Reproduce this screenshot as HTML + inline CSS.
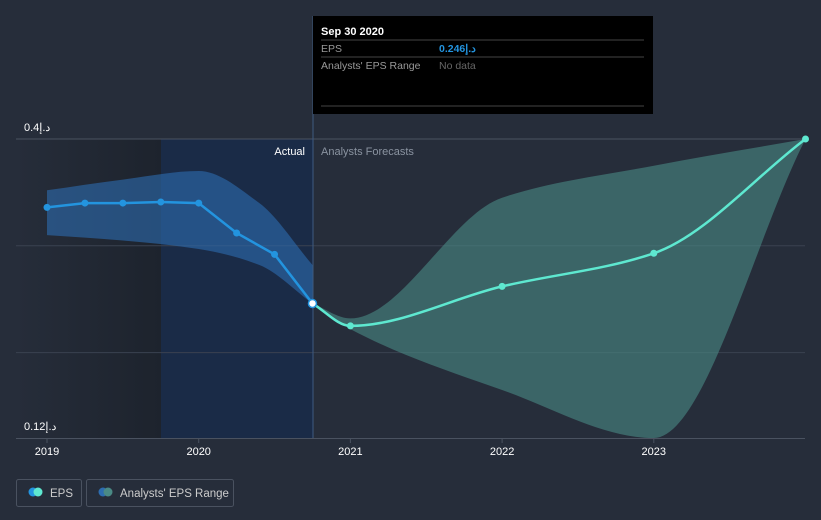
<!DOCTYPE html>
<html><head><meta charset="utf-8"><style>
body{margin:0;background:#262d3a;font-family:"Liberation Sans","Noto Sans CJK SC",sans-serif;}
svg{display:block}
</style></head><body>
<svg width="821" height="520">
<defs>
<linearGradient id="lg" x1="0" x2="1" y1="0" y2="0"><stop offset="0" stop-color="#262d3a"/><stop offset="1" stop-color="#1d232d"/></linearGradient>
</defs>
<rect x="0" y="0" width="821" height="520" fill="#262d3a"/>
<rect x="16" y="139" width="145" height="299" fill="url(#lg)"/>
<rect x="161" y="139" width="152" height="299" fill="#1a2b47"/>
<g id="grid"></g>
<path id="actBand" fill="#2d6db0" fill-opacity="0.6"/>
<path id="fcBand" fill="#4a8a85" fill-opacity="0.6"/>
<line x1="313" y1="16" x2="313" y2="438" stroke="#3d5a80" stroke-width="1"/>
<path id="actLine" fill="none" stroke="#2394df" stroke-width="2.5"/>
<path id="fcLine" fill="none" stroke="#5ee8d0" stroke-width="2.5"/>
<g id="pts"></g>
<text x="305" y="155" fill="#fff" font-size="11" text-anchor="end">Actual</text>
<text x="321" y="155" fill="#8a93a0" font-size="11">Analysts Forecasts</text>
<g id="ylab"></g>
<g id="xlab"></g>
<g>
<rect x="313" y="16" width="340" height="98" fill="#000"/>
<text x="321" y="35" fill="#fff" font-size="11" font-weight="bold">Sep 30 2020</text>
<line x1="321" y1="40" x2="644" y2="40" stroke="#444"/>
<text x="321" y="52" fill="#999" font-size="10.5">EPS</text>
<text x="439" y="52" fill="#2394df" font-size="10.5" font-weight="bold">0.246د.إ</text>
<line x1="321" y1="57" x2="644" y2="57" stroke="#444"/>
<text x="321" y="69" fill="#999" font-size="10.5">Analysts' EPS Range</text>
<text x="439" y="69" fill="#666" font-size="10.5">No data</text>
<line x1="321" y1="106" x2="644" y2="106" stroke="#444"/>
</g>
<g>
<rect x="16.5" y="479.5" width="65" height="27" rx="2" fill="none" stroke="#4a5260"/>
<circle cx="33" cy="492" r="4.5" fill="#2394df"/><circle cx="38" cy="492" r="4.5" fill="#5ee8d0"/>
<text x="50" y="497" fill="#ccc" font-size="11.5">EPS</text>
</g>
<g>
<rect x="86.5" y="479.5" width="147" height="27" rx="2" fill="none" stroke="#4a5260"/>
<circle cx="103" cy="492" r="4.5" fill="#2d6db0"/><circle cx="108" cy="492" r="4.5" fill="#4a8a85"/>
<text x="120" y="497" fill="#ccc" font-size="11.5">Analysts' EPS Range</text>
</g>
</svg>
<script>
const actualDates=[2019,2019.25,2019.5,2019.75,2020,2020.25,2020.5,2020.75];
const actualEps=[0.336,0.340,0.340,0.341,0.340,0.312,0.292,0.246];
const bandDates=[2019,2019.5,2020,2020.4,2020.75];
const actualHigh=[0.352,0.362,0.370,0.340,0.282];
const actualLow=[0.310,0.305,0.297,0.282,0.246];
const fcDates=[2020.75,2021,2022,2023,2024];
const fcEps=[0.246,0.225,0.262,0.293,0.4];
const fcHigh=[0.246,0.232,0.345,0.375,0.4];
const fcLow=[0.246,0.222,0.165,0.120,0.4];
const yTicks=[0.4,0.3,0.2,0.12];
const yLabels=["0.4د.إ","","","0.12د.إ"];
const xTicks=[2019,2020,2021,2022,2023];
const X=d=>47+(d-2019)*151.7;
const Y=v=>139+(0.4-v)*1068;
const ns="http://www.w3.org/2000/svg";
function line(xs,ys){return xs.map((d,i)=>(i?"L":"M")+X(d).toFixed(1)+","+Y(ys[i]).toFixed(1)).join("");}
function smooth(xs,ys){
  const n=xs.length,px=xs.map(X),py=ys.map(Y);
  const dx=[],s=[];for(let i=0;i<n-1;i++){dx[i]=px[i+1]-px[i];s[i]=(py[i+1]-py[i])/dx[i];}
  const m=[];m[0]=s[0];m[n-1]=s[n-2];
  for(let i=1;i<n-1;i++){if(s[i-1]*s[i]<=0)m[i]=0;else{const w1=2*dx[i]+dx[i-1],w2=dx[i]+2*dx[i-1];m[i]=(w1+w2)/(w1/s[i-1]+w2/s[i]);}}
  let p="M"+px[0].toFixed(1)+","+py[0].toFixed(1);
  for(let i=0;i<n-1;i++){const h=dx[i]/3;
    p+=`C${(px[i]+h).toFixed(1)},${(py[i]+m[i]*h).toFixed(1)} ${(px[i+1]-h).toFixed(1)},${(py[i+1]-m[i+1]*h).toFixed(1)} ${px[i+1].toFixed(1)},${py[i+1].toFixed(1)}`;}
  return p;}
function smoothRev(xs,ys){
  // build forward then reverse points by re-tracing backwards with same curve
  const n=xs.length,px=xs.map(X),py=ys.map(Y);
  const dx=[],s=[];for(let i=0;i<n-1;i++){dx[i]=px[i+1]-px[i];s[i]=(py[i+1]-py[i])/dx[i];}
  const m=[];m[0]=s[0];m[n-1]=s[n-2];
  for(let i=1;i<n-1;i++){if(s[i-1]*s[i]<=0)m[i]=0;else{const w1=2*dx[i]+dx[i-1],w2=dx[i]+2*dx[i-1];m[i]=(w1+w2)/(w1/s[i-1]+w2/s[i]);}}
  let p="L"+px[n-1].toFixed(1)+","+py[n-1].toFixed(1);
  for(let i=n-1;i>0;i--){const h=dx[i-1]/3;
    p+=`C${(px[i]-h).toFixed(1)},${(py[i]-m[i]*h).toFixed(1)} ${(px[i-1]+h).toFixed(1)},${(py[i-1]+m[i-1]*h).toFixed(1)} ${px[i-1].toFixed(1)},${py[i-1].toFixed(1)}`;}
  return p;}
function band(xs,hi,lo){return smooth(xs,hi)+smoothRev(xs,lo)+"Z";}
document.getElementById('actBand').setAttribute('d',band(bandDates,actualHigh,actualLow));
document.getElementById('fcBand').setAttribute('d',band(fcDates,fcHigh,fcLow));
document.getElementById('actLine').setAttribute('d',line(actualDates,actualEps));
document.getElementById('fcLine').setAttribute('d',smooth(fcDates,fcEps));
const g=document.getElementById('grid');
yTicks.forEach((t,i)=>{if(t===0.12)return;const l=document.createElementNS(ns,'line');


l.setAttribute('x1',16);l.setAttribute('x2',805);l.setAttribute('y1',Y(t));l.setAttribute('y2',Y(t));l.setAttribute('stroke',i==0?'#4a5260':'#3a4250');g.appendChild(l);});
const base=document.createElementNS(ns,'line');


base.setAttribute('x1',16);base.setAttribute('x2',805);base.setAttribute('y1',438.5);base.setAttribute('y2',438.5);base.setAttribute('stroke','#4a5260');g.appendChild(base);
const yl=document.getElementById('ylab');
yTicks.forEach((t,i)=>{if(!yLabels[i])return;const tx=document.createElementNS(ns,'text');


tx.setAttribute('x',24);tx.setAttribute('y',Y(t)-8);tx.setAttribute('fill','#fff');tx.setAttribute('font-size','11');tx.textContent=yLabels[i];yl.appendChild(tx);});
const xl=document.getElementById('xlab');
xTicks.forEach(t=>{const tx=document.createElementNS(ns,'text');


tx.setAttribute('x',X(t));tx.setAttribute('y',455);tx.setAttribute('fill','#fff');tx.setAttribute('font-size','11');tx.setAttribute('text-anchor','middle');tx.textContent=t;xl.appendChild(tx);
const tk=document.createElementNS(ns,'line');


tk.setAttribute('x1',X(t));tk.setAttribute('x2',X(t));tk.setAttribute('y1',439);tk.setAttribute('y2',443);tk.setAttribute('stroke','#4a5260');xl.appendChild(tk);});
const pts=document.getElementById('pts');
actualDates.forEach((d,i)=>{const c=document.createElementNS(ns,'circle');


c.setAttribute('cx',X(d));c.setAttribute('cy',Y(actualEps[i]));c.setAttribute('r',i==actualDates.length-1?4:3.5);
c.setAttribute('fill',i==actualDates.length-1?'#fff':'#2394df');c.setAttribute('stroke',i==actualDates.length-1?'#2394df':'none');c.setAttribute('stroke-width',1.5);pts.appendChild(c);});
fcDates.forEach((d,i)=>{if(i==0)return;const c=document.createElementNS(ns,'circle');


c.setAttribute('cx',X(d));c.setAttribute('cy',Y(fcEps[i]));c.setAttribute('r',3.5);c.setAttribute('fill','#5ee8d0');pts.appendChild(c);});
</script>
</body></html>
